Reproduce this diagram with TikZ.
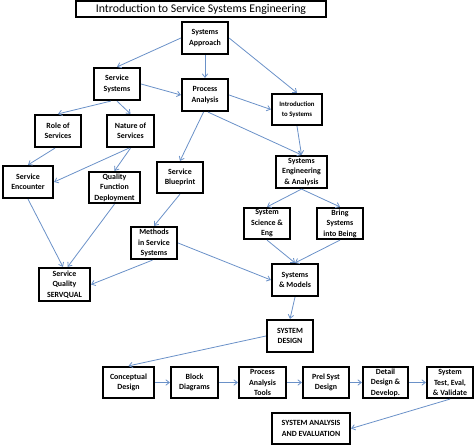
\documentclass[tikz,border=0pt]{standalone}
\usepackage{fontspec}
\setmainfont{Carlito}
\usetikzlibrary{arrows.meta}
\definecolor{linkblue}{RGB}{106,145,200}
\tikzset{>={Straight Barb[length=3.5pt,width=5.5pt]}}
\tikzset{
	box/.style={draw,line width=2.2pt,align=center,minimum width=46pt,minimum height=32pt,inner xsep=1pt,inner ysep=0pt,font=\bfseries\fontsize{7.9}{10.5}\selectfont},
	link/.style={->,draw=linkblue,line width=0.8pt}
}

\begin{document}
\begin{tikzpicture}[x=1pt,y=-1pt]
			\useasboundingbox (0,0) rectangle (474,445);
			\node[draw,line width=1.6pt,minimum width=250pt,minimum height=16pt,inner sep=0pt,font=\fontsize{11.8}{12}\selectfont] (title) at (201,9) {Introduction to Service Systems Engineering};
			\node[box] (sa) at (205,38) {Systems\\Approach};
			\node[box] (ss) at (117,84) {Service\\Systems};
			\node[box] (pa) at (205,95) {Process\\Analysis};
			\node[box,minimum width=50pt,minimum height=31pt,font=\bfseries\fontsize{6.8}{10}\selectfont] (its) at (297,109.5) {Introduction\\to Systems};
			\node[box] (ros) at (58,131) {Role of\\Services};
			\node[box,minimum width=47pt] (nos) at (130.5,131) {Nature of\\Services};
			\node[box,minimum width=50pt] (se) at (28,182) {Service\\Encounter};
			\node[box,minimum width=51pt,minimum height=31pt] (qfd) at (114.5,187.5) {Quality\\Function\\Deployment};
			\node[box,minimum height=31pt] (sb) at (180,177.5) {Service\\Blueprint};
			\node[box,minimum width=51pt] (sea) at (301.5,172) {Systems\\Engineering\\\& Analysis};
			\node[box,minimum height=31pt] (sse) at (267,223.5) {System\\Science \&\\Eng};
			\node[box,minimum height=31pt] (bsib) at (340,223.5) {Bring\\Systems\\into Being};
			\node[box] (mss) at (154,243) {Methods\\in Service\\Systems};
			\node[box,minimum width=51pt,minimum height=33pt] (sq) at (64.5,284.5) {Service\\Quality\\SERVQUAL};
			\node[box] (sm) at (295,280) {Systems\\\& Models};
			\node[box] (sd) at (290,336) {SYSTEM\\DESIGN};
			\node[box,minimum width=51pt,minimum height=31pt] (cd) at (128.5,382.5) {Conceptual\\Design};
			\node[box,minimum width=47pt,minimum height=31pt] (bd) at (194.5,382.5) {Block\\Diagrams};
			\node[box,minimum width=47pt,minimum height=31pt] (pat) at (262.5,382.5) {Process\\Analysis\\Tools};
			\node[box,minimum height=31pt] (psd) at (326,382.5) {Prel Syst\\Design};
			\node[box,minimum width=45pt,minimum height=31pt] (ddd) at (385.5,382.5) {Detail\\Design \&\\Develop.};
			\node[box,minimum height=31pt] (stev) at (450,382.5) {System\\Test, Eval,\\\& Validate};
			\node[box,minimum width=78pt,minimum height=31pt] (sae) at (311,428.5) {SYSTEM ANALYSIS\\AND EVALUATION};
			\draw[link] (sa.west)--(ss.north);
			\draw[link] (sa.south)--(pa.north);
			\draw[link] (sa.east)--(its.north);
			\draw[link] (ss.east)--(pa.west);
			\draw[link] (ss.250)--(ros.north);
			\draw[link] (ss.south)--(nos.north);
			\draw[link] (pa.east)--(its.west);
			\draw[link] (pa.265)--(sb.north);
			\draw[link] (pa.280)--(sea.north);
			\draw[link] (its.south)--(sea.north);
			\draw[link] (ros.260)--(se.north);
			\draw[link] (nos.265)--(se.east);
			\draw[link] (nos.south)--(qfd.north);
			\draw[link] (se.south)--(sq.95);
			\draw[link] (qfd.south)--(sq.80);
			\draw[link] (sb.south)--(mss.north);
			\draw[link] (sea.south)--(sse.north);
			\draw[link] (sea.south)--(bsib.north);
			\draw[link] (sse.south)--(sm.north);
			\draw[link] (bsib.south)--(sm.north);
			\draw[link] (mss.265)--(sq.east);
			\draw[link] (mss.east)--(sm.west);
			\draw[link] (sm.south)--(sd.north);
			\draw[link] (sd.west)--(cd.north);
			\draw[link] (cd.east)--(bd.west);
			\draw[link] (bd.east)--(pat.west);
			\draw[link] (pat.east)--(psd.west);
			\draw[link] (psd.east)--(ddd.west);
			\draw[link] (ddd.east)--(stev.west);
			\draw[link] (stev.south)--(sae.east);
		\end{tikzpicture}
\end{document}
